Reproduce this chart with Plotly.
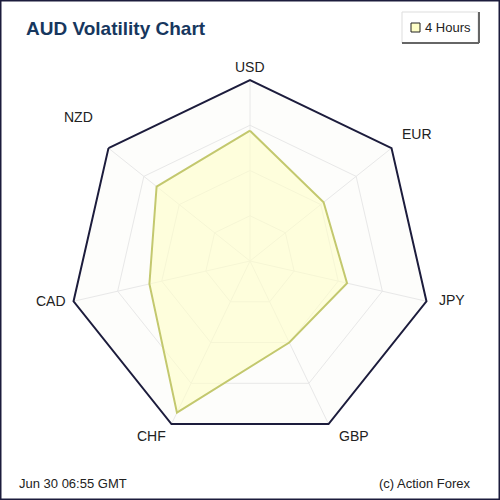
import math
import plotly.graph_objects as go

categories = ["USD", "EUR", "JPY", "GBP", "CHF", "CAD", "NZD"]
values = [72, 52, 55, 50, 93, 57, 66]
series_name = "4 Hours"
title_text = "AUD Volatility Chart"
footer_left = "Jun 30 06:55 GMT"
footer_right = "(c) Action Forex"

# styling: small nudges of the category labels (px)
label_yshift = [0, 6, 4, 0, 0, 3, 23]
label_xshift = [0, -2, -2, 3, 2, 7, -3]

W = H = 500
dom_x = [0.138, 0.862]
dom_y = [0.116, 0.84]

fig = go.Figure()
fig.add_trace(go.Scatterpolar(
    r=values + values[:1],
    theta=categories + categories[:1],
    mode="lines",
    fill="toself",
    fillcolor="rgba(255,255,200,0.6)",
    line=dict(color="#c3c86e", width=2),
    name=series_name,
    showlegend=False,
))

# category labels placed around the polygon (computed from the angle)
cx = (dom_x[0] + dom_x[1]) / 2
cy = (dom_y[0] + dom_y[1]) / 2
R = (dom_x[1] - dom_x[0]) / 2
rl = R + 13 / W
label_annots = []
n = len(categories)
for i, c in enumerate(categories):
    a = math.radians(i * 360 / n)
    s, co = math.sin(a), math.cos(a)
    xa = "left" if s > 0.1 else ("right" if s < -0.1 else "center")
    label_annots.append(dict(
        text=c, xref="paper", yref="paper", x=cx + rl * s, y=cy + rl * co,
        xanchor=xa, yanchor="middle", showarrow=False,
        yshift=label_yshift[i], xshift=label_xshift[i],
        font=dict(size=14, color="#222222", family="Liberation Sans, Arial")))

fig.update_layout(
    width=W, height=H,
    margin=dict(l=0, r=0, t=0, b=0),
    paper_bgcolor="white",
    plot_bgcolor="white",
    polar=dict(
        domain=dict(x=dom_x, y=dom_y),
        gridshape="linear",
        bgcolor="rgba(253,253,251,1)",
        radialaxis=dict(range=[0, 100], tickvals=[25, 50, 75, 100],
                        showticklabels=False, ticks="", showline=False,
                        gridcolor="#e8e8e8", gridwidth=1),
        angularaxis=dict(direction="clockwise", rotation=90,
                         showline=True, linecolor="#1c1c3c", linewidth=2,
                         gridcolor="#e8e8e8", ticks="", showticklabels=False),
    ),
    font=dict(family="Liberation Sans, Arial"),
    shapes=[
        dict(type="rect", xref="paper", yref="paper", x0=0.001, x1=0.999, y0=0.001, y1=0.999,
             line=dict(color="#1c1c3c", width=2), fillcolor="rgba(0,0,0,0)"),
        dict(type="rect", xref="paper", yref="paper", x0=402/500, x1=478/500,
             y0=1 - 43/500, y1=1 - 12/500,
             line=dict(color="#dddddd", width=1), fillcolor="white"),
        dict(type="line", xref="paper", yref="paper", x0=402/500, x1=479/500,
             y0=1 - 43/500, y1=1 - 43/500, line=dict(color="#666666", width=2)),
        dict(type="line", xref="paper", yref="paper", x0=479/500, x1=479/500,
             y0=1 - 43/500, y1=1 - 12/500, line=dict(color="#666666", width=2)),
        dict(type="rect", xref="paper", yref="paper", x0=411/500, x1=420/500,
             y0=1 - 32/500, y1=1 - 23/500,
             line=dict(color="#222222", width=1), fillcolor="rgba(255,255,200,1)"),
    ],
    annotations=label_annots + [
        dict(text="<b>" + title_text + "</b>", xref="paper", yref="paper",
             x=24/500, y=1 - 28/500, xanchor="left", yanchor="middle", showarrow=False,
             font=dict(size=19, color="#17375e", family="Liberation Sans, Arial")),
        dict(text=series_name, xref="paper", yref="paper",
             x=423/500, y=1 - 27/500, xanchor="left", yanchor="middle", showarrow=False,
             font=dict(size=13, color="#222222")),
        dict(text=footer_left, xref="paper", yref="paper",
             x=17/500, y=1 - 483/500, xanchor="left", yanchor="middle", showarrow=False,
             font=dict(size=13, color="#222222")),
        dict(text=footer_right, xref="paper", yref="paper",
             x=473/500, y=1 - 483/500, xanchor="right", yanchor="middle", showarrow=False,
             font=dict(size=13, color="#222222")),
    ],
)

fig.write_html("out.html", config={"displayModeBar": False},
               post_script="document.body.style.margin='0';document.body.style.overflow='hidden';")
